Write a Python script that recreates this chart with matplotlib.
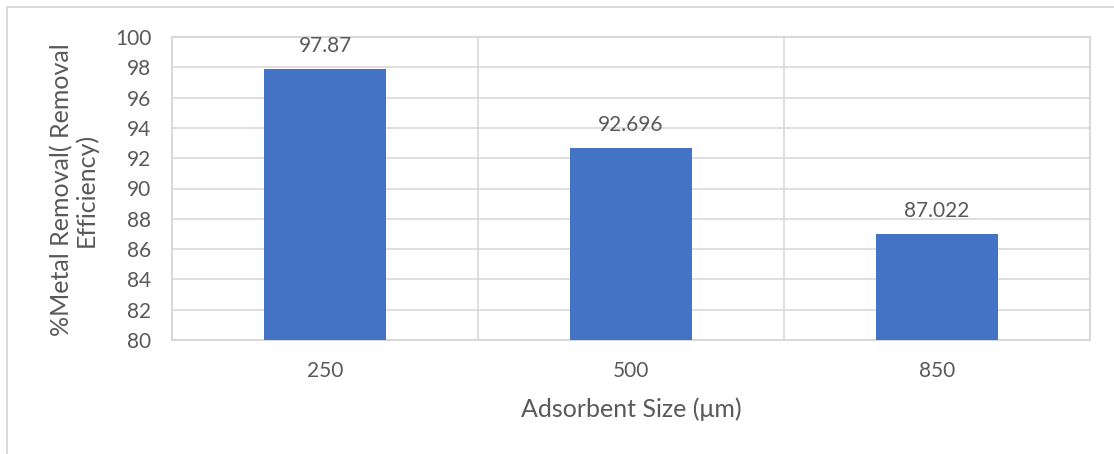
import matplotlib
matplotlib.use("Agg")
import matplotlib.pyplot as plt
from matplotlib.patches import Rectangle

sizes = ["250", "500", "850"]
removal = [97.87, 92.696, 87.022]
value_labels = ["97.87", "92.696", "87.022"]
y_ticks = [80, 82, 84, 86, 88, 90, 92, 94, 96, 98, 100]

W, H = 1114, 454
fig = plt.figure(figsize=(W / 100, H / 100), dpi=100)
plt.rcParams["font.family"] = ["Lato", "DejaVu Sans"]

grid_c = "#d9d9d9"
text_c = "#595959"
bar_c = "#4472c4"

# outer chart frame (only top/left edges fall inside the image)
fig.patches.append(Rectangle((7 / W, -0.1), 1.2, (H - 7) / H + 0.1,
                             transform=fig.transFigure, fill=False,
                             edgecolor=grid_c, linewidth=1.3))

left, right, top, bottom = 172, 1090, 37, 340
ax = fig.add_axes([left / W, 1 - bottom / H, (right - left) / W, (bottom - top) / H])

x = list(range(len(sizes)))
ax.bar(x, [v - 80 for v in removal], bottom=80, width=0.4, color=bar_c, zorder=3)
ax.set_xlim(-0.5, len(sizes) - 0.5)
ax.set_ylim(80, 100)
ax.set_yticks(y_ticks)
ax.set_xticks(x)
ax.set_xticklabels(sizes)

# horizontal gridlines and vertical category separators
for yv in y_ticks:
    ax.axhline(yv, color=grid_c, linewidth=1.2, zorder=1)
for xv in [0.5, 1.5]:
    ax.axvline(xv, color=grid_c, linewidth=1.2, zorder=1)
for s in ax.spines.values():
    s.set_color(grid_c)
    s.set_linewidth(1.5)

ax.tick_params(axis="both", length=0, labelsize=15, colors=text_c)
ax.tick_params(axis="x", pad=15)
ax.tick_params(axis="y", pad=15)

for xi, v, lab in zip(x, removal, value_labels):
    ax.text(xi, v + 0.85, lab, ha="center", va="bottom", fontsize=15, color=text_c)

ax.set_xlabel("Adsorbent Size (\u03bcm)", fontsize=18, color=text_c, labelpad=12)
fig.text(74 / W, 1 - 190 / H, "%Metal Removal( Removal\nEfficiency)", rotation=90,
         ha="center", va="center", multialignment="center",
         fontsize=18, color=text_c, linespacing=1.05)

fig.savefig("out.png", dpi=100)
